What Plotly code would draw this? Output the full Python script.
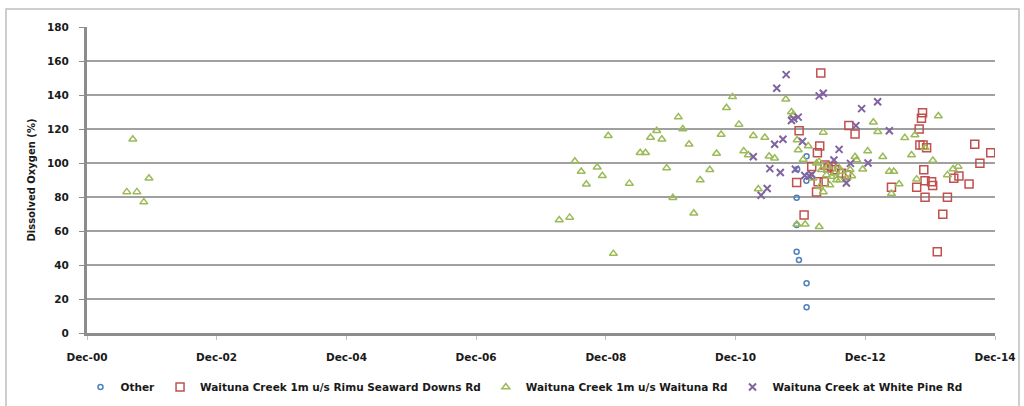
import plotly.graph_objects as go

# ---- data ----
other_dates = ["2011-11-10", "2011-11-10", "2011-11-10", "2011-11-23", "2012-01-05",
               "2012-01-05", "2012-01-05", "2011-11-13", "2012-01-04"]
other_vals = [79.6, 63.5, 47.8, 43, 29.2, 15.1, 104, 96.3, 89.6]

rimu_dates = ["2011-11-24", "2011-11-10", "2011-12-22", "2012-02-03", "2012-03-01",
              "2012-03-06", "2012-03-10", "2012-03-19", "2012-03-25", "2012-04-13",
              "2012-04-17", "2012-05-05", "2012-05-24", "2012-06-12", "2012-07-20",
              "2012-08-17", "2012-08-30", "2012-10-04", "2013-04-27", "2013-09-16",
              "2013-09-30", "2013-10-04", "2013-10-13", "2013-10-19", "2013-10-22",
              "2013-10-26", "2013-11-02", "2013-11-02", "2013-11-11", "2013-12-09",
              "2013-12-15", "2014-01-10", "2014-02-10", "2014-03-08", "2014-04-13",
              "2014-05-12", "2014-07-08", "2014-08-09", "2014-09-07", "2014-11-07"]
rimu_vals = [119, 88.6, 69.4, 98, 83, 106, 89, 110, 153, 89,
             98.8, 97, 98, 96, 94, 93, 122, 117, 85.7, 85.7,
             120, 110.6, 126.3, 129.6, 110.6, 96, 89.6, 79.8, 109, 89,
             86.7, 47.8, 69.8, 79.8, 91, 92.4, 87.6, 111, 99.8, 106]

waituna_dates = ["2001-07-13", "2001-08-16", "2001-09-08", "2001-10-17", "2001-11-15",
                 "2008-03-13", "2008-05-11", "2008-06-09", "2008-07-15", "2008-08-13",
                 "2008-10-13", "2008-11-11", "2008-12-14", "2009-01-12", "2009-04-12",
                 "2009-06-12", "2009-07-12", "2009-08-09", "2009-09-13", "2009-10-12",
                 "2009-11-08", "2009-12-13", "2010-01-13", "2010-02-07", "2010-03-14",
                 "2010-04-10", "2010-05-16", "2010-07-09", "2010-08-16", "2010-09-11",
                 "2010-10-11", "2010-11-14", "2010-12-20", "2011-01-16", "2011-02-11",
                 "2011-03-11", "2011-04-08", "2011-05-15", "2011-06-08", "2011-07-09",
                 "2011-09-10", "2011-10-12", "2011-10-18", "2011-11-13", "2011-11-19",
                 "2011-11-11", "2011-12-17", "2011-12-28", "2012-01-14", "2012-03-15",
                 "2012-03-16", "2012-04-08", "2012-03-01", "2012-03-28", "2012-04-26",
                 "2012-05-24", "2012-06-22", "2012-03-19", "2012-04-08", "2012-05-15",
                 "2012-07-20", "2012-08-17", "2012-09-15", "2012-05-05", "2012-06-12",
                 "2012-07-10", "2012-09-06", "2012-10-13", "2012-02-10", "2012-06-29",
                 "2012-10-04", "2012-11-16", "2012-12-14", "2013-01-15", "2013-02-09",
                 "2013-03-09", "2013-04-15", "2013-05-10", "2013-06-09", "2013-04-27",
                 "2013-07-11", "2013-08-18", "2013-09-06", "2013-09-16", "2013-11-02",
                 "2013-12-16", "2014-01-16", "2014-03-08", "2014-04-09", "2014-05-07"]
waituna_vals = [83, 114, 83, 77, 91,
                66.5, 68, 101, 95, 87.5,
                97.5, 92.5, 116, 46.7, 88,
                106, 106, 115, 119, 114,
                97, 79.6, 127, 120, 111,
                70.4, 90, 96, 105.6, 116.8,
                132.5, 138.9, 122.7, 107, 104.7,
                116, 84.7, 115, 104, 102.8,
                137.5, 130, 128, 113.5, 107.6,
                64, 102, 64, 110, 100.8,
                62.5, 118, 99.8, 96, 93,
                92, 90, 86, 83, 87,
                95, 91, 92.4, 98, 94,
                90, 96, 101.8, 91, 98,
                103.7, 96.3, 107, 124, 118.4,
                103.7, 95, 95, 87.6, 82,
                114.8, 104.7, 116.5, 90.5, 109,
                101.5, 127.6, 93, 96.5, 98]

whitepine_dates = ["2011-03-11", "2011-04-24", "2011-05-28", "2011-06-12", "2011-07-09",
                   "2011-07-21", "2011-08-10", "2011-08-25", "2011-09-12", "2011-10-12",
                   "2011-10-25", "2011-11-19", "2011-11-03", "2011-12-13", "2011-12-26",
                   "2012-01-20", "2012-02-03", "2012-03-16", "2012-04-08", "2012-06-07",
                   "2012-07-06", "2012-08-16", "2012-09-08", "2012-10-09", "2012-11-10",
                   "2012-12-16", "2013-02-08", "2013-04-15"]
whitepine_vals = [103.7, 81, 85, 96.7, 111,
                  144, 94.4, 114, 152, 125,
                  126, 127, 96.3, 112.6, 92.6,
                  92.4, 93.2, 139.5, 141, 101.8,
                  108, 88.2, 99.8, 122, 132,
                  100, 136, 119]

series_names = ["Other", "Waituna Creek 1m u/s Rimu Seaward Downs Rd",
                "Waituna Creek 1m u/s Waituna Rd", "Waituna Creek at White Pine Rd"]

y_title = "Dissolved Oxygen (%)"

# ---- figure ----
FONT = "DejaVu Sans, Verdana, sans-serif"
TXT = "#1a1a1a"

fig = go.Figure()

fig.add_trace(go.Scatter(
    x=other_dates, y=other_vals, mode="markers", name=series_names[0],
    marker=dict(symbol="circle-open", size=5, color="#4F81BD", line=dict(width=1.5))))
fig.add_trace(go.Scatter(
    x=rimu_dates, y=rimu_vals, mode="markers", name=series_names[1],
    marker=dict(symbol="square-open", size=8, color="#C0504D", line=dict(width=1.5))))
fig.add_trace(go.Scatter(
    x=waituna_dates, y=waituna_vals, mode="markers", name=series_names[2],
    marker=dict(symbol="triangle-up-open", size=7, color="#9BBB59", line=dict(width=1.5))))
fig.add_trace(go.Scatter(
    x=whitepine_dates, y=whitepine_vals, mode="markers", name=series_names[3],
    marker=dict(symbol="x-thin-open", size=7, color="#8064A2", line=dict(width=2))))

L, R, T, B = 87, 995, 27, 333
W = R - L
H = B - T

def px_x(p):
    return (p - L) / W

def px_y(q):
    return (B - q) / H

fig.update_layout(
    width=1024, height=406,
    margin=dict(l=L, r=1024 - R, t=T, b=406 - B, pad=0, autoexpand=False),
    paper_bgcolor="white", plot_bgcolor="white",
    font=dict(family=FONT, size=10, color=TXT, weight="bold"),
    showlegend=True,
    legend=dict(orientation="h", x=px_x(524), xanchor="center", y=px_y(387), yanchor="middle",
                font=dict(family=FONT, size=10.5, color=TXT, weight="bold"), itemwidth=30,
                bgcolor="rgba(0,0,0,0)", tracegroupgap=0),
    xaxis=dict(
        type="date", range=["2000-12-01", "2014-12-01"],
        tick0="2000-12-01", dtick="M24", tickformat="%b-%y",
        showgrid=False, showline=True, linecolor="#8c8c8c", linewidth=3,
        ticks="outside", ticklen=4, tickcolor="#bfbfbf", ticklabelstandoff=8,
        tickfont=dict(family=FONT, size=10.5, color=TXT, weight="bold"), zeroline=False,
        automargin=False,
    ),
    yaxis=dict(
        range=[0, 180], dtick=20, tick0=0,
        showgrid=True, gridcolor="#a0a0a0", gridwidth=1.5,
        showline=True, linecolor="#8c8c8c", linewidth=3,
        ticks="outside", ticklen=5, tickcolor="#8c8c8c", ticklabelstandoff=8,
        tickfont=dict(family=FONT, size=10.5, color=TXT, weight="bold"), zeroline=False,
        automargin=False,
        title=dict(text=y_title, font=dict(family=FONT, size=10, color=TXT, weight="bold"),
                   standoff=10),
    ),
    shapes=[dict(type="rect", xref="paper", yref="paper",
                 x0=px_x(6), x1=px_x(1019), y0=px_y(412), y1=px_y(9),
                 line=dict(color="#bfbfbf", width=1.5), fillcolor="rgba(0,0,0,0)",
                 layer="below")],
)

fig.write_html("out.html", config={"displayModeBar": False},
               post_script="document.body.style.margin='0';")
